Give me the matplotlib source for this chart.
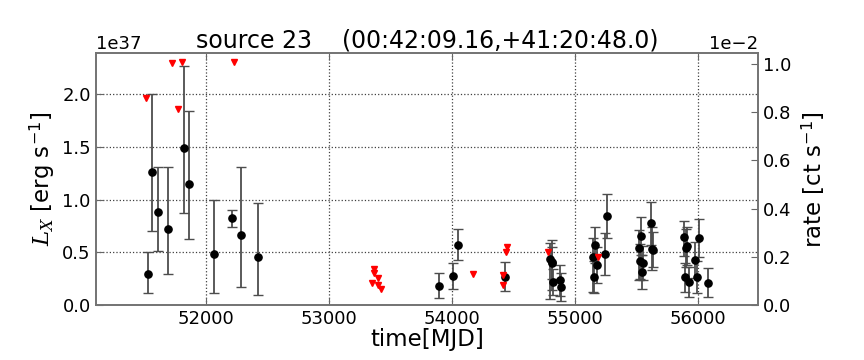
import matplotlib
matplotlib.use("Agg")
import matplotlib.pyplot as plt
from matplotlib.ticker import ScalarFormatter
import numpy as np

plt.rcParams['font.family'] = ['DejaVu Sans']
plt.rcParams['mathtext.fontset'] = 'custom'
plt.rcParams['mathtext.rm'] = 'DejaVu Sans'
plt.rcParams['mathtext.it'] = 'DejaVu Serif:italic'

# detections (MJD, L_X in 1e37 erg/s, lower / upper error bar ends)
mjd = [51526, 51559, 51608, 51689, 51824, 51864, 52067, 52211, 52284, 52425,
       53890, 54009, 54050, 54429, 54798, 54809, 54814, 54818, 54879, 54884,
       55147, 55154, 55164, 55178, 55245, 55256, 55515, 55526, 55534, 55545,
       55553, 55615, 55623, 55636, 55880, 55891, 55902, 55912, 55921, 55977,
       55988, 56005, 56082]
lx = [0.293, 1.265, 0.880, 0.722, 1.486, 1.148, 0.483, 0.823, 0.665, 0.457,
      0.183, 0.277, 0.574, 0.271, 0.435, 0.397, 0.413, 0.218, 0.239, 0.176,
      0.460, 0.271, 0.568, 0.379, 0.488, 0.842, 0.542, 0.416, 0.656, 0.315,
      0.403, 0.779, 0.536, 0.523, 0.644, 0.265, 0.540, 0.561, 0.218, 0.429,
      0.271, 0.640, 0.214]
lx_lo = [0.114, 0.700, 0.517, 0.293, 0.871, 0.625, 0.114, 0.738, 0.170, 0.100,
         0.066, 0.157, 0.426, 0.138, 0.060, 0.250, 0.145, 0.100, 0.091, 0.040,
         0.123, 0.120, 0.400, 0.208, 0.287, 0.634, 0.239, 0.250, 0.480, 0.154,
         0.240, 0.571, 0.334, 0.360, 0.470, 0.129, 0.360, 0.380, 0.081, 0.260,
         0.120, 0.460, 0.076]
lx_hi = [0.502, 1.997, 1.312, 1.312, 2.268, 1.836, 1.000, 0.905, 1.312, 0.971,
         0.303, 0.397, 0.719, 0.407, 0.587, 0.550, 0.618, 0.340, 0.384, 0.310,
         0.634, 0.420, 0.744, 0.550, 0.681, 1.050, 0.713, 0.580, 0.833, 0.480,
         0.560, 0.981, 0.740, 0.690, 0.800, 0.400, 0.720, 0.740, 0.360, 0.600,
         0.420, 0.814, 0.350]

# upper limits
ul_mjd = [51513, 51720, 51770, 51801, 52230, 53346, 53365, 53367, 53400, 53400,
          53422, 54170, 54410, 54414, 54436, 54447, 54779, 55188]
ul_lx = [1.965, 2.296, 1.855, 2.306, 2.300, 0.214, 0.341, 0.303, 0.261, 0.192,
         0.151, 0.296, 0.195, 0.284, 0.500, 0.552, 0.507, 0.454]

scale = 1e37
conv = 2.286e39   # erg/s per ct/s
xlim = (51104, 56485)
ylim_top = 2.385

fig = plt.figure(figsize=(8.64, 3.6), dpi=100)
ax = fig.add_axes([0.1108, 0.152, 0.7665, 0.700])

y = np.array(lx) * scale
lo = y - np.array(lx_lo) * scale
hi = np.array(lx_hi) * scale - y
ax.errorbar(mjd, y, yerr=[lo, hi], fmt='o', color='black', ms=5.2,
            ecolor='0.3', elinewidth=1.3, capsize=3.5, capthick=1.0, zorder=3)
ax.plot(ul_mjd, np.array(ul_lx) * scale, 'v', color='red', ms=5,
        mec='red', zorder=4)

ax.set_xlim(*xlim)
ax.set_ylim(0, ylim_top * scale)
ax.set_xticks([52000, 53000, 54000, 55000, 56000])
ax.set_yticks(np.arange(0, 2.01, 0.5) * scale)
ax.grid(True, color='0.25', linestyle=':', linewidth=0.9)
ax.tick_params(direction='in', length=5, labelsize=13, top=True,
               color='0.4')
ax.yaxis.get_offset_text().set_fontsize(13)
ax.set_xlabel('time[MJD]', fontsize=16.5, labelpad=0)
ax.set_ylabel(r'$L_X$ [erg s$^{-1}$]', fontsize=16.5, labelpad=4)
ax.set_title('source 23    (00:42:09.16,+41:20:48.0)', fontsize=17, pad=4)

ax2 = ax.twinx()
ax2.set_ylim(0, ylim_top * scale / conv)
ax2.set_yticks(np.arange(0, 0.0101, 0.002))
fmt = ScalarFormatter(useMathText=False)
fmt.set_powerlimits((0, 0))
ax2.yaxis.set_major_formatter(fmt)
ax2.tick_params(direction='in', length=5, labelsize=13, color='0.4')
ax2.yaxis.get_offset_text().set_fontsize(13)
ax2.set_ylabel(r'rate [ct s$^{-1}$]', fontsize=16.5, labelpad=6)

for a in (ax, ax2):
    for s in a.spines.values():
        s.set_color('0.45')
        s.set_linewidth(1.2)

fig.savefig('out.png', dpi=100)
